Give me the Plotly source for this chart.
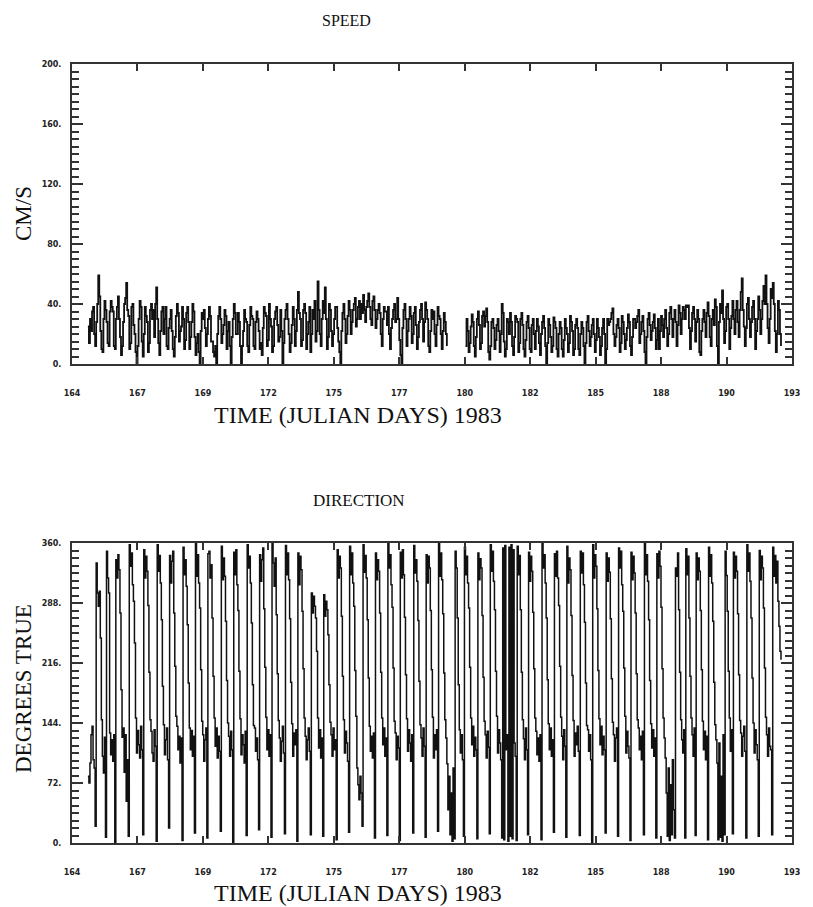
import numpy as np
import plotly.graph_objects as go

# ---------------- data ----------------
START_DAY = 164.64          # first sample, Julian day 1983
STEP_DAYS = 1.0 / 24.0      # hourly samples

X_MIN, X_MAX = 164, 193
X_TICK_LABELS = ["164", "167", "169", "172", "175", "177", "180", "182", "185", "188", "190", "193"]

SPEED_TICKS = [0, 40, 80, 120, 160, 200]
SPEED_TICK_LABELS = ["0.", "40.", "80.", "120.", "160.", "200."]
DIR_TICKS = [0, 72, 144, 216, 288, 360]
DIR_TICK_LABELS = ["0.", "72.", "144.", "216.", "288.", "360."]

# speed, cm/s, one row per day (None = data gap)
SPEED_CMS = [
    25, 14, 30, 22, 35, 38, 20, 12, 28, 40, 59, 45, 22, 10, 8, 30, 42, 36, 28, 14, 12, 35, 42, 38,
    35, 12, 10, 30, 38, 45, 30, 18, 6, 12, 28, 40, 44, 54, 36, 32, 10, 14, 38, 40, 26, 20, 8, 0,
    12, 30, 42, 38, 15, 5, 20, 38, 32, 28, 8, 14, 36, 40, 30, 36, 18, 40, 51, 30, 14, 6, 22, 35,
    38, 20, 30, 38, 12, 10, 24, 30, 36, 22, 10, 5, 18, 32, 40, 34, 15, 22, 25, 38, 30, 10, 16, 34,
    38, 28, 10, 18, 28, 40, 35, 18, 6, 14, 20, 8, 0, 22, 34, 30, 36, 24, 12, 20, 30, 38, 32, 15,
    15, 8, 5, 12, 0, 20, 32, 38, 30, 14, 20, 26, 36, 32, 10, 22, 28, 12, 0, 18, 30, 40, 34, 20,
    20, 34, 28, 12, 0, 12, 22, 36, 30, 28, 12, 8, 26, 38, 32, 30, 12, 10, 28, 35, 30, 22, 10, 14,
    6, 24, 38, 34, 32, 12, 16, 40, 30, 25, 8, 12, 30, 35, 38, 26, 15, 18, 36, 22, 0, 14, 30, 36,
    40, 30, 20, 8, 14, 26, 38, 30, 12, 22, 36, 48, 34, 30, 12, 16, 36, 40, 34, 10, 20, 28, 38, 8,
    20, 36, 30, 42, 15, 22, 55, 36, 20, 12, 30, 42, 34, 51, 30, 10, 18, 40, 36, 22, 12, 20, 30, 38,
    38, 24, 15, 8, 0, 22, 34, 40, 30, 14, 20, 32, 42, 36, 20, 28, 36, 40, 44, 25, 30, 38, 42, 30,
    40, 34, 46, 36, 28, 38, 42, 47, 38, 30, 26, 42, 45, 36, 24, 30, 36, 40, 34, 20, 12, 30, 38, 35,
    35, 26, 38, 20, 10, 24, 30, 36, 40, 28, 30, 44, 30, 16, 6, 0, 24, 36, 40, 30, 12, 22, 30, 38,
    32, 14, 20, 34, 38, 26, 10, 18, 28, 36, 40, 30, 15, 28, 41, 36, 30, 12, 8, 22, 36, 30, 35, 20,
    12, 26, 38, 32, 30, 20, 10, 22, 34, 28, 20, 12, None, None, None, None, None, None, None, None, None, None, None, None,
    None, None, None, None, None, 12, 30, 22, 8, 14, 25, 33, 28, 12, 5, 18, 30, 35, 26, 10, 14, 32, 35, 25,
    32, 37, 28, 8, 3, 12, 28, 30, 24, 10, 16, 26, 30, 22, 8, 20, 40, 34, 15, 5, 10, 30, 28, 20,
    34, 28, 12, 6, 18, 32, 30, 28, 8, 14, 30, 34, 26, 10, 5, 16, 28, 32, 24, 10, 8, 26, 30, 20,
    10, 22, 30, 25, 14, 6, 20, 28, 32, 24, 12, 0, 14, 30, 26, 18, 8, 12, 31, 28, 24, 10, 5, 20,
    28, 24, 10, 5, 16, 30, 24, 20, 8, 14, 32, 28, 22, 6, 10, 26, 30, 24, 10, 6, 20, 28, 24, 12,
    0, 14, 28, 32, 22, 12, 18, 26, 30, 20, 8, 16, 30, 24, 18, 6, 12, 24, 30, 20, 0, 10, 30, 26,
    28, 30, 34, 37, 20, 12, 18, 26, 30, 24, 8, 14, 32, 28, 20, 10, 16, 24, 33, 28, 12, 6, 18, 30,
    30, 24, 28, 32, 36, 14, 20, 28, 32, 22, 8, 0, 18, 30, 34, 26, 16, 22, 28, 33, 24, 10, 16, 30,
    10, 22, 32, 26, 18, 30, 36, 24, 12, 20, 34, 38, 30, 18, 30, 36, 28, 12, 26, 39, 34, 20, 30, 38,
    36, 30, 39, 38, 39, 24, 10, 22, 34, 38, 30, 15, 28, 36, 30, 8, 6, 22, 30, 36, 28, 18, 34, 41,
    32, 18, 12, 30, 36, 26, 43, 38, 12, 0, 28, 40, 34, 49, 30, 14, 22, 38, 40, 30, 10, 24, 32, 42,
    30, 20, 36, 42, 28, 18, 36, 48, 57, 36, 25, 12, 24, 40, 44, 30, 18, 28, 38, 42, 30, 10, 22, 30,
    45, 36, 20, 30, 42, 52, 40, 59, 40, 24, 14, 30, 50, 44, 54, 40, 22, 8, 20, 42, 36, 20, 12,
]

# direction, degrees true, one row per tidal cycle
DIRECTION_DEG = [
    80, 72, 96, 130, 140, 100, 90, 20, 336, 300, 284, 302, 246, 148,
    104, 84, 127, 7, 350, 318, 300, 132, 106, 124,
    98, 130, 0, 340, 318, 346, 328, 276, 184, 127, 138, 85,
    130, 50, 100, 8, 358, 332, 348, 310, 290, 240, 150, 108, 135,
    118, 102, 140, 112, 10, 352, 318, 344, 326, 285, 205, 148,
    134, 108, 98, 136, 116, 2, 358, 326, 345, 312, 268, 188, 142,
    106, 124, 138, 100, 18, 345, 312, 338, 350, 276, 212, 152,
    140, 112, 128, 96, 126, 3, 355, 322, 340, 308, 262, 192, 138,
    112, 135, 104, 128, 12, 359, 320, 346, 312, 282, 208, 146,
    130, 98, 124, 138, 6, 347, 350, 318, 334, 270, 200, 150,
    116, 138, 102, 128, 110, 14, 356, 316, 342, 320, 266, 195, 144,
    128, 104, 134, 112, 1, 349, 322, 352, 310, 279, 206, 149,
    106, 130, 118, 96, 134, 9, 358, 330, 344, 312, 264, 190, 141,
    138, 110, 126, 100, 16, 346, 314, 340, 354, 281, 211, 151,
    112, 136, 104, 130, 7, 359, 336, 308, 342, 274, 203, 147,
    126, 98, 122, 140, 108, 11, 357, 322, 348, 316, 269, 193, 143,
    104, 132, 118, 136, 2, 348, 310, 344, 328, 278, 209, 150,
    128, 100, 124, 138, 110, 10, 300, 276, 296, 284, 270, 230, 150,
    114, 136, 102, 126, 8, 298, 272, 290, 280, 250, 190, 145,
    130, 104, 138, 112, 124, 4, 352, 318, 344, 330, 272, 200, 148,
    108, 134, 120, 98, 13, 356, 322, 348, 312, 284, 207, 152,
    90, 70, 52, 80, 60, 20, 358, 325, 345, 318, 268, 198,
    140, 110, 128, 102, 132, 6, 348, 316, 340, 326, 276, 205, 150,
    118, 138, 104, 126, 9, 359, 330, 346, 310, 283, 210, 146,
    132, 100, 128, 114, 3, 349, 318, 352, 322, 271, 202, 149,
    110, 136, 120, 98, 130, 12, 357, 324, 340, 314, 267, 194, 142,
    126, 104, 138, 116, 7, 346, 312, 344, 330, 279, 208, 151,
    102, 130, 112, 136, 14, 359, 320, 348, 316, 275, 204, 148,
    126, 95, 40, 80, 10, 60, 2, 90, 5, 350, 330, 270, 190,
    136, 108, 130, 100, 8, 355, 322, 344, 312, 282, 211, 150,
    118, 140, 104, 127, 112, 5, 348, 316, 341, 330, 273, 199, 146,
    130, 102, 134, 115, 11, 358, 326, 350, 314, 280, 206, 152,
    108, 136, 120, 100, 6, 354, 4, 357, 112, 130, 2, 355, 8,
    358, 5, 352, 120, 104, 3, 356, 322, 345, 280, 205, 148,
    125, 100, 138, 112, 10, 349, 314, 344, 326, 277, 209, 150,
    134, 106, 126, 98, 130, 4, 359, 330, 346, 312, 270, 196, 143,
    112, 138, 104, 124, 13, 347, 320, 350, 318, 285, 212, 151,
    128, 100, 136, 116, 7, 356, 312, 342, 328, 273, 201, 147,
    104, 132, 118, 140, 110, 9, 350, 324, 348, 310, 265, 192, 141,
    136, 110, 130, 100, 1, 358, 318, 346, 332, 281, 207, 149,
    118, 140, 106, 128, 112, 12, 348, 314, 342, 325, 269, 197, 145,
    130, 98, 126, 138, 8, 354, 330, 350, 310, 278, 210, 152,
    108, 134, 116, 102, 3, 349, 316, 344, 324, 276, 203, 148,
    138, 112, 128, 100, 134, 10, 359, 322, 346, 314, 268, 195, 143,
    114, 136, 104, 126, 6, 347, 318, 350, 332, 283, 209, 150,
    126, 102, 60, 8, 90, 3, 70, 10, 100, 40, 6, 330,
    320, 348, 280, 205, 148, 124, 108, 136, 6, 353, 322, 344, 270,
    200, 150, 130, 104, 138, 9, 348, 316, 342, 326, 279, 208,
    146, 112, 134, 100, 128, 4, 355, 320, 346, 312, 266, 193, 142,
    124, 96, 4, 120, 7, 80, 2, 130, 10, 350, 321, 278,
    206, 150, 110, 136, 11, 349, 318, 344, 326, 275, 202, 147,
    132, 104, 128, 140, 110, 6, 358, 326, 348, 314, 270, 198, 144,
    108, 136, 118, 100, 8, 351, 316, 344, 330, 282, 210, 151,
    130, 104, 138, 116, 112, 10, 355, 320, 345, 312, 338, 290, 260, 230, 220,
]

# ---------------- figure ----------------
t_speed = START_DAY + np.arange(len(SPEED_CMS)) * STEP_DAYS
t_dir = START_DAY + np.arange(len(DIRECTION_DEG)) * STEP_DAYS
x_tickvals = np.linspace(X_MIN, X_MAX, len(X_TICK_LABELS))

# the page body adds an 8 px margin, so the figure is drawn 8 px smaller
OFF = 8
W, H = 813 - OFF, 907 - OFF


def px(x):
    return (x - OFF) / W


def py(y):
    return 1 - (y - OFF) / H


LEFT, RIGHT = 72, 792

fig = go.Figure()
fig.add_trace(go.Scatter(x=t_speed, y=SPEED_CMS, mode="lines", connectgaps=False,
                         line=dict(color="#111", width=1.8, shape="hv"),
                         xaxis="x", yaxis="y", hoverinfo="skip"))
fig.add_trace(go.Scatter(x=t_dir, y=DIRECTION_DEG, mode="lines",
                         line=dict(color="#111", width=1.5, shape="hv"),
                         xaxis="x2", yaxis="y2", hoverinfo="skip"))

tick_font = dict(family="DejaVu Sans", size=8, color="#222", weight="bold")
base = dict(showgrid=False, zeroline=False, showline=True, linecolor="#333",
            linewidth=2, mirror="ticks", ticks="inside", tickcolor="#333",
            tickwidth=1.5, tickfont=tick_font, automargin=False)

xcommon = dict(base, domain=[px(LEFT), px(RIGHT)], range=[X_MIN, X_MAX],
               tickmode="array", tickvals=x_tickvals, ticktext=X_TICK_LABELS,
               ticklen=7, ticklabelstandoff=20)

fig.update_layout(
    width=W, height=H, margin=dict(l=0, r=0, t=0, b=0, autoexpand=False),
    paper_bgcolor="white", plot_bgcolor="white", showlegend=False,
    xaxis=dict(xcommon, anchor="y"),
    xaxis2=dict(xcommon, anchor="y2"),
    yaxis=dict(base, domain=[py(364), py(64)], range=[0, 200], anchor="x",
               tickmode="array", tickvals=SPEED_TICKS, ticktext=SPEED_TICK_LABELS,
               ticklen=11, ticklabelstandoff=7,
               minor=dict(tickvals=list(range(0, 201, 5)), ticks="inside",
                          ticklen=7, tickcolor="#333", tickwidth=1.5)),
    yaxis2=dict(base, domain=[py(843), py(543)], range=[0, 360], anchor="x2",
                tickmode="array", tickvals=DIR_TICKS, ticktext=DIR_TICK_LABELS,
                ticklen=11, ticklabelstandoff=7,
                minor=dict(tickvals=list(range(0, 361, 9)), ticks="inside",
                           ticklen=7, tickcolor="#333", tickwidth=1.5)),
)

serif = "Liberation Serif"


def note(text, x, y, size, angle=0):
    fig.add_annotation(text=text, x=px(x), y=py(y), xref="paper", yref="paper",
                       showarrow=False, textangle=angle,
                       font=dict(family=serif, size=size, color="#111"),
                       xanchor="center", yanchor="middle")


note("SPEED", 346, 20, 16)
note("DIRECTION", 359, 500, 17)
note("TIME (JULIAN DAYS) 1983", 358, 415, 24)
note("TIME (JULIAN DAYS) 1983", 358, 893, 24)
note("CM/S", 23, 214, 23, -90)
note("DEGREES TRUE", 23, 689, 23, -90)

fig.write_html("out.html")
